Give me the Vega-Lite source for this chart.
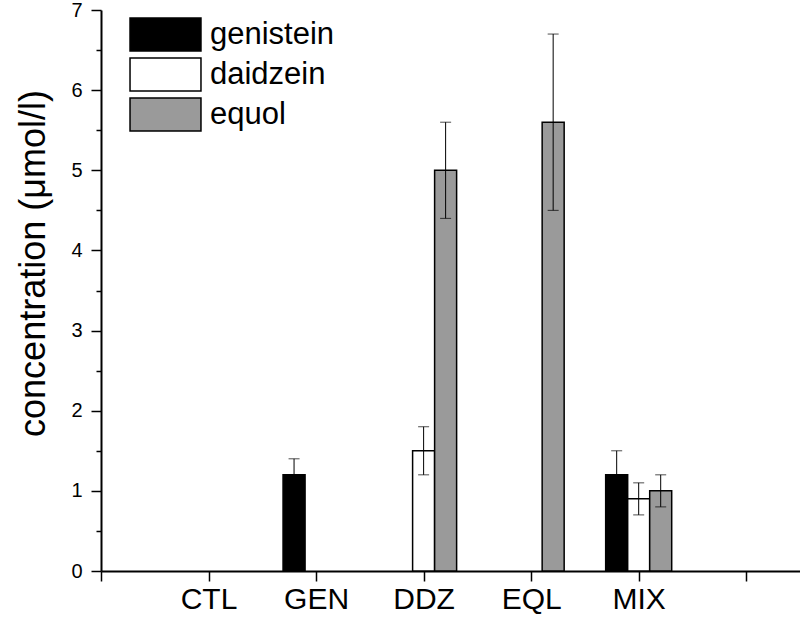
{
  "$schema": "https://vega.github.io/schema/vega-lite/v6.json",
  "width": 699,
  "height": 561,
  "autosize": {"type": "none"},
  "padding": {"left": 101, "top": 10, "right": 0, "bottom": 46},
  "background": "white",
  "config": {
    "font": "Liberation Sans",
    "view": {"stroke": null},
    "axis": {"grid": false, "domainColor": "black", "tickColor": "black", "labelColor": "black", "titleColor": "black", "domainWidth": 2, "tickWidth": 1.5, "titleFontWeight": "normal"}
  },
  "data": {
    "values": [
      {"group": "GEN", "compound": "genistein", "value": 1.2, "lo": 1.0, "hi": 1.4},
      {"group": "DDZ", "compound": "daidzein", "value": 1.5, "lo": 1.2, "hi": 1.8},
      {"group": "DDZ", "compound": "equol", "value": 5.0, "lo": 4.4, "hi": 5.6},
      {"group": "EQL", "compound": "equol", "value": 5.6, "lo": 4.5, "hi": 6.7},
      {"group": "MIX", "compound": "genistein", "value": 1.2, "lo": 0.9, "hi": 1.5},
      {"group": "MIX", "compound": "daidzein", "value": 0.9, "lo": 0.7, "hi": 1.1},
      {"group": "MIX", "compound": "equol", "value": 1.0, "lo": 0.8, "hi": 1.2}
    ]
  },
  "layer": [
    {
      "encoding": {
        "x": {"field": "group", "type": "nominal", "axis": null,
              "scale": {"domain": ["CTL", "GEN", "DDZ", "EQL", "MIX"], "paddingInner": 0, "paddingOuter": 0.75, "align": 0.3333}},
        "xOffset": {"field": "compound", "type": "nominal",
              "scale": {"domain": ["genistein", "daidzein", "equol"], "paddingInner": 0, "paddingOuter": 0.943}}
      },
      "layer": [
        {
          "mark": {"type": "bar", "stroke": "black", "strokeWidth": 1.5, "opacity": 1},
          "encoding": {
            "y": {"field": "value", "type": "quantitative",
                  "scale": {"domain": [0, 7], "nice": false, "zero": true},
                  "axis": {
                    "values": [0, 0.5, 1, 1.5, 2, 2.5, 3, 3.5, 4, 4.5, 5, 5.5, 6, 6.5, 7],
                    "labelExpr": "datum.value % 1 === 0 ? toString(datum.value) : ''",
                    "tickSize": {"condition": {"test": "datum.value % 1 !== 0", "value": 5}, "value": 10},
                    "labelFontSize": 20, "labelPadding": 9,
                    "title": "concentration (μmol/l)", "titleFontSize": 36, "titlePadding": 18, "titleY": 253
                  }},
            "fill": {"field": "compound", "type": "nominal",
                     "scale": {"domain": ["genistein", "daidzein", "equol"], "range": ["#000000", "#ffffff", "#9a9a9a"]},
                     "legend": {
                       "title": null, "orient": "none", "legendX": 47, "legendY": 7, "padding": 0,
                       "symbolType": "M-2.15,-1H2.15V1H-2.15Z", "symbolSize": 1089,
                       "symbolStrokeColor": "black", "symbolStrokeWidth": 1.5, "symbolOpacity": 1,
                       "labelFontSize": 31, "labelOffset": 27, "rowPadding": 1, "labelColor": "black"
                     }}
          }
        },
        {
          "mark": {"type": "rule", "color": "black", "strokeWidth": 1},
          "encoding": {"y": {"field": "lo", "type": "quantitative"}, "y2": {"field": "hi"}}
        },
        {
          "mark": {"type": "tick", "color": "black", "thickness": 1, "size": 11},
          "encoding": {"y": {"field": "hi", "type": "quantitative"}}
        },
        {
          "mark": {"type": "tick", "color": "black", "thickness": 1, "size": 11},
          "encoding": {"y": {"field": "lo", "type": "quantitative"}}
        }
      ]
    },
    {
      "data": {"values": [{}]},
      "mark": {"type": "point", "opacity": 0},
      "encoding": {
        "x": {"datum": 0, "type": "quantitative",
              "scale": {"domain": [0, 6.5], "nice": false, "zero": false},
              "axis": {"values": [0, 1, 2, 3, 4, 5, 6], "labelExpr": "['','CTL','GEN','DDZ','EQL','MIX',''][datum.value]",
                       "tickSize": 10, "labelFontSize": 30, "labelPadding": 3, "title": null}}
      }
    }
  ],
  "resolve": {"scale": {"x": "independent"}}
}
